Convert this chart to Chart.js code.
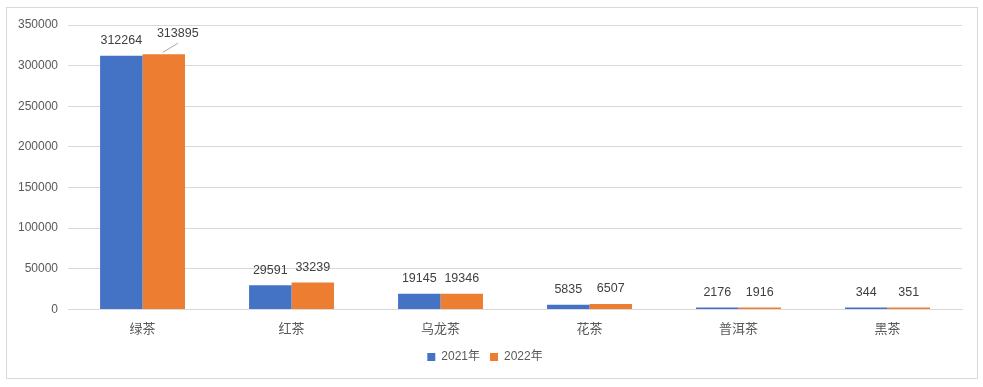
<!DOCTYPE html>
<html><head><meta charset="utf-8">
<script src="https://cdn.jsdelivr.net/npm/chart.js@4/dist/chart.umd.min.js"></script>
<style>html,body{margin:0;padding:0;background:#fff}#wrap{width:983px;height:387px}</style>
</head><body><div id="wrap"><canvas id="c" width="983" height="387"></canvas></div>
<script>
const categories = ["绿茶", "红茶", "乌龙茶", "花茶", "普洱茶", "黑茶"];
const series2021 = [312264, 29591, 19145, 5835, 2176, 344];
const series2022 = [313895, 33239, 19346, 6507, 1916, 351];
const seriesNames = ["2021年", "2022年"];
const yTicks = [0, 50000, 100000, 150000, 200000, 250000, 300000, 350000];

const FONT = '"Liberation Sans", Arial, "Noto Sans CJK SC", sans-serif';

const borderPlugin = {
  id: 'outerBorder',
  beforeDraw(chart) {
    const ctx = chart.ctx;
    ctx.save();
    ctx.fillStyle = '#fff';
    ctx.fillRect(0, 0, chart.width, chart.height);
    ctx.strokeStyle = '#d9d9d9';
    ctx.lineWidth = 1;
    ctx.strokeRect(6.5, 7.5, 971, 371);
    ctx.restore();
  }
};

const labelPlugin = {
  id: 'dataLabels',
  afterDatasetsDraw(chart) {
    const ctx = chart.ctx;
    ctx.save();
    ctx.font = '12.5px ' + FONT;
    ctx.fillStyle = '#404040';
    ctx.textAlign = 'center';
    ctx.textBaseline = 'bottom';
    chart.data.datasets.forEach((ds, di) => {
      const meta = chart.getDatasetMeta(di);
      meta.data.forEach((bar, i) => {
        const v = ds.data[i];
        let x = bar.x, y = bar.y - 9;
        if (di === 1 && i === 0) {
          const lx = x + 14, ly = bar.y - 15;
          ctx.strokeStyle = '#a6a6a6';
          ctx.beginPath();
          ctx.moveTo(x - 1, bar.y - 2);
          ctx.lineTo(x + 14, bar.y - 11);
          ctx.stroke();
          x = lx; y = ly;
        }
        ctx.fillText(String(v), x, y);
      });
    });
    ctx.restore();
  }
};

new Chart(document.getElementById('c'), {
  type: 'bar',
  data: {
    labels: categories,
    datasets: [
      { label: seriesNames[0], data: series2021, backgroundColor: '#4472C4' },
      { label: seriesNames[1], data: series2022, backgroundColor: '#ED7D31' }
    ]
  },
  options: {
    responsive: false,
    animation: false,
    devicePixelRatio: 1,
    layout: { padding: { left: 8, right: 21, top: 25, bottom: 14 } },
    datasets: { bar: { categoryPercentage: 0.57, barPercentage: 1.0, minBarLength: 2 } },
    plugins: {
      legend: {
        position: 'bottom',
        labels: { boxWidth: 8, boxHeight: 8, color: '#595959', font: { size: 12, family: FONT }, padding: 10 }
      },
      tooltip: { enabled: false }
    },
    scales: {
      x: {
        grid: { display: false },
        border: { color: '#d9d9d9' },
        ticks: { color: '#595959', font: { size: 13, family: FONT }, padding: 4 }
      },
      y: {
        min: 0, max: 350000,
        afterBuildTicks(axis) { axis.ticks = yTicks.map(v => ({ value: v })); },
        grid: { color: '#d9d9d9', drawTicks: false },
        border: { display: false },
        ticks: { color: '#595959', font: { size: 12, family: FONT }, padding: 10, callback: v => String(v) }
      }
    }
  },
  plugins: [borderPlugin, labelPlugin]
});
</script></body></html>
